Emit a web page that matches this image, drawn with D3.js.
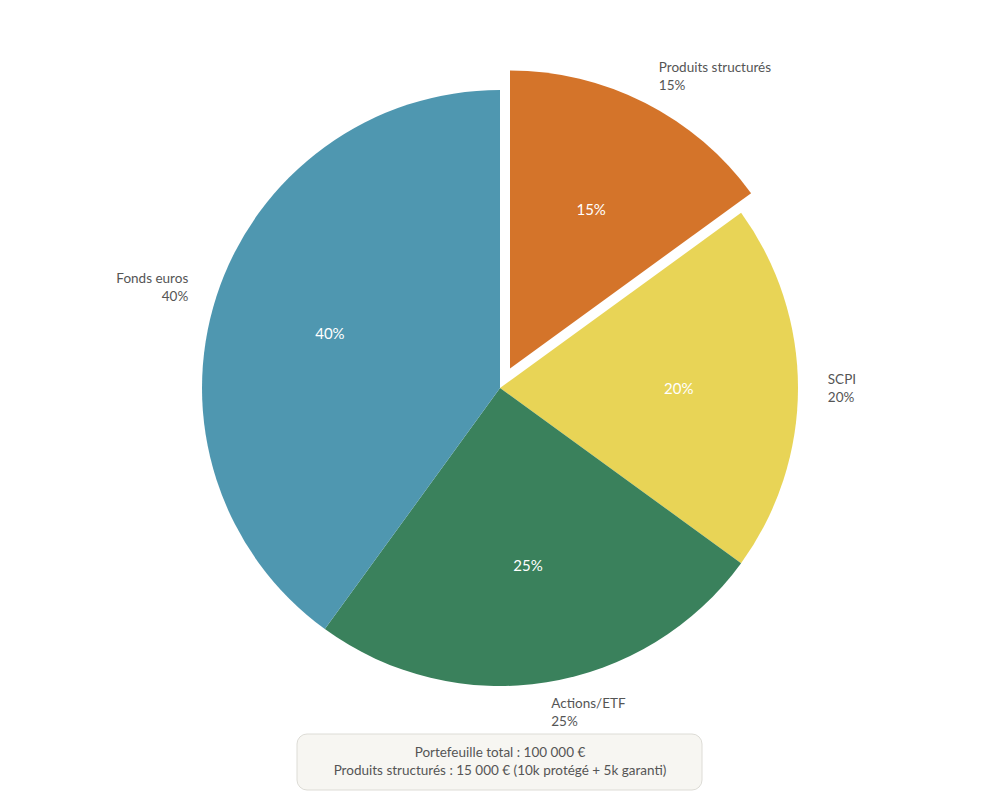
<!DOCTYPE html>
<html><head><meta charset="utf-8">
<script src="https://cdn.jsdelivr.net/npm/d3@7"></script>
<style>body{margin:0;background:#fff;font-family:Lato,"Noto Sans",sans-serif}</style>
</head><body><div class="viz"></div>
<script>
const categories = ['Produits structurés', 'SCPI', 'Actions/ETF', 'Fonds euros'];
const values = [15, 20, 25, 40];
const colors = ['#d4742a', '#e8d456', '#3a815c', '#4f97b0'];
const exploded = ['Produits structurés'];
const noteLines = ['Portefeuille total : 100 000 €', 'Produits structurés : 15 000 € (10k protégé + 5k garanti)'];

const w = 1000, h = 800, cx = 500, cy = 388, r = 298, pull = 22;
const svg = d3.select('.viz').append('svg').attr('width', w).attr('height', h);
const data = categories.map((c, i) => ({ name: c, value: values[i], color: colors[i] }));
const arcs = d3.pie().sort(null).value(d => d.value)(data);
const arc = d3.arc().innerRadius(0).outerRadius(r);
const total = d3.sum(values);

const off = d => {
    const a = (d.startAngle + d.endAngle) / 2;
    const k = exploded.includes(d.data.name) ? pull : 0;
    return [Math.sin(a) * k, -Math.cos(a) * k];
};
const pt = (d, rad) => {
    const a = (d.startAngle + d.endAngle) / 2;
    const o = off(d);
    return [cx + o[0] + Math.sin(a) * rad, cy + o[1] - Math.cos(a) * rad];
};

const g = svg.append('g');
g.selectAll('path').data(arcs).enter().append('path')
    .attr('d', arc)
    .attr('transform', d => { const o = off(d); return `translate(${cx + o[0]},${cy + o[1]})`; })
    .attr('fill', d => d.data.color);

g.selectAll('text.in').data(arcs).enter().append('text')
    .attr('class', 'in')
    .attr('x', d => pt(d, r * 0.6)[0])
    .attr('y', d => pt(d, r * 0.6)[1])
    .attr('text-anchor', 'middle').attr('dominant-baseline', 'central')
    .attr('fill', '#fff').attr('font-size', 15)
    .text(d => Math.round(d.data.value / total * 100) + '%');

const lab = g.selectAll('text.out').data(arcs).enter().append('text')
    .attr('class', 'out')
    .attr('fill', '#555').attr('font-size', 13.5)
    .attr('text-anchor', d => ((d.startAngle + d.endAngle) / 2 > Math.PI ? 'end' : 'start'))
    .attr('transform', d => { const p = pt(d, r * 1.1); return `translate(${p[0]},${p[1]})`; });
lab.append('tspan').attr('x', 0).attr('y', -9).attr('dominant-baseline', 'central').text(d => d.data.name);
lab.append('tspan').attr('x', 0).attr('y', 9).attr('dominant-baseline', 'central')
    .text(d => Math.round(d.data.value / total * 100) + '%');

svg.append('rect').attr('x', 297).attr('y', 734).attr('width', 405).attr('height', 56)
    .attr('rx', 10).attr('fill', '#f7f6f2').attr('stroke', '#dddcd6');
svg.selectAll('text.note').data(noteLines).enter().append('text')
    .attr('class', 'note').attr('x', 500).attr('y', (d, i) => 752 + i * 18)
    .attr('text-anchor', 'middle').attr('dominant-baseline', 'central')
    .attr('fill', '#555').attr('font-size', 13.5).text(d => d);
</script></body></html>
